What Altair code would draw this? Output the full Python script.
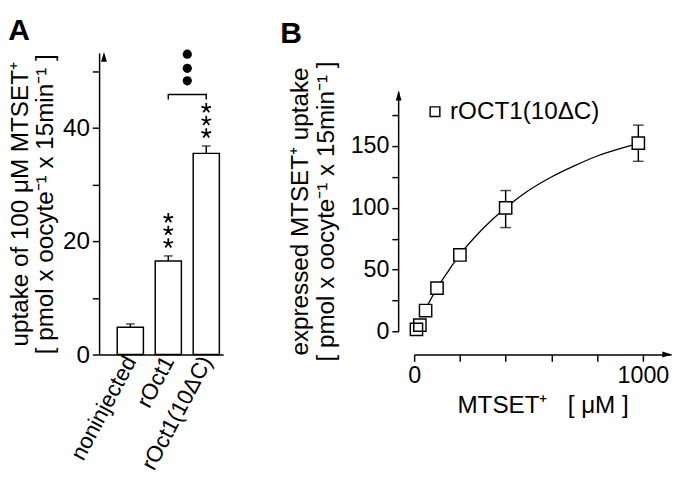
import altair as alt
import pandas as pd

FONT = "Liberation Sans"
NBSP = "\u00a0"

# ---------- Panel A data ----------
groups = ["noninjected", "rOct1", "rOct1(10ΔC)"]
group_pos = [1, 2, 3]
uptake = [4.8, 16.5, 35.5]
uptake_err = [0.6, 0.9, 1.3]
n_stars = [0, 3, 3]

bracket_x = [2, 2, 3, 3]
bracket_y = [45.0, 45.9, 45.9, 45.0]
dots_x = [2.5, 2.5, 2.5]
dots_y = [48.3, 50.5, 53.0]

xa_domain = [0.306, 3.318]
ya_domain = [0, 53.2]
ya_ticks = [0, 10, 20, 30, 40, 50]

# ---------- Panel B data ----------
conc = [10, 25, 50, 100, 200, 400, 980]
expr_uptake = [1.6, 5.0, 16.8, 35.0, 61.8, 100.0, 152.5]
expr_lo = [None, None, None, None, None, 84.0, 137.7]
expr_hi = [None, None, None, None, None, 114.0, 167.0]

fit_conc = [50, 100, 150, 200, 300, 400, 500, 600, 700, 800, 900, 980]
fit_uptake = [18, 35, 49, 62, 83, 100, 114, 125, 134, 142, 148, 152]

xb_domain = [0, 1123]
yb_domain = [0, 225.4]
yb_axis_top = 194
xb_ticks = list(range(0, 1001, 100))
yb_ticks = list(range(0, 176, 25))
series_name = "rOCT1(10ΔC)"

ASTERISK = ("M0,0L0,-1M0,0L0.951,-0.309M0,0L0.588,0.809"
            "M0,0L-0.588,0.809M0,0L-0.951,-0.309")
ARROW_UP = "M0,-0.2L-0.6,1.8L0.6,1.8Z"
ARROW_RIGHT = "M0.2,0L-1.8,-0.6L-1.8,0.6Z"

# ---------- Panel A ----------
dfA = pd.DataFrame({"group": groups, "pos": group_pos, "uptake": uptake,
                    "err": uptake_err, "nstars": n_stars})
dfA["top"] = dfA["uptake"] + dfA["err"]

label_expr = "[''," + ",".join("'" + g + "'" for g in groups) + "][datum.value]"

xA = alt.X("pos:Q", scale=alt.Scale(domain=xa_domain, nice=False, zero=False),
           axis=alt.Axis(values=group_pos, labelExpr=label_expr, labelAngle=-62,
                         ticks=False, title=None, labelFontSize=23, labelPadding=3,
                         labelBaseline="middle", labelOverlap=False, labelFlush=False))
yA = alt.Y("uptake:Q", scale=alt.Scale(domain=ya_domain, nice=False),
           axis=alt.Axis(values=ya_ticks,
                         labelExpr="datum.value % 20 == 0 ? datum.label : ''",
                         tickSize=7, labelFontSize=25, labelPadding=3,
                         title=["uptake of 100 μM MTSET⁺", "[ pmol x oocyte⁻¹ x 15min⁻¹ ]"],
                         titleFontSize=25, titleFontWeight="normal", titlePadding=5,
                         titleLineHeight=26))

baseA = alt.Chart(dfA)
barsA = baseA.mark_bar(size=27, fill="white", stroke="black", strokeWidth=1.5).encode(x=xA, y=yA)
errA = baseA.mark_rule(strokeWidth=1.5, color="black").encode(x="pos:Q", y="uptake:Q", y2="top:Q")
capA = baseA.mark_tick(orient="horizontal", size=9, thickness=1.5, color="black").encode(
    x="pos:Q", y="top:Q")
starLayers = [
    baseA.transform_filter(f"datum.nstars >= {k}").mark_point(
        shape=ASTERISK, size=110, filled=False, color="black", strokeWidth=1.8,
        opacity=1, yOffset=-13 * k).encode(x="pos:Q", y="top:Q")
    for k in (1, 2, 3)
]

dfBr = pd.DataFrame({"x": bracket_x, "y": bracket_y, "o": list(range(4))})
bracket = alt.Chart(dfBr).mark_line(color="black", strokeWidth=1.5).encode(
    x="x:Q", y="y:Q", order="o:Q")
dfDots = pd.DataFrame({"x": dots_x, "y": dots_y})
dots = alt.Chart(dfDots).mark_circle(size=90, color="black", opacity=1).encode(x="x:Q", y="y:Q")

arrowA = alt.Chart(pd.DataFrame({"x": [xa_domain[0]], "y": [ya_domain[1]]})).mark_point(
    shape=ARROW_UP, filled=True, size=100, color="black", opacity=1
).encode(x="x:Q", y="y:Q")

panelA = alt.layer(barsA, errA, capA, *starLayers, bracket, dots, arrowA).properties(
    width=128, height=311,
    title=alt.TitleParams("A", anchor="start", frame="bounds", fontSize=31,
                          fontWeight="bold", baseline="top", offset=3))

# ---------- Panel B ----------
dfB = pd.DataFrame({"conc": conc, "val": expr_uptake, "lo": expr_lo, "hi": expr_hi,
                    "series": [series_name] * len(conc)})
dfFit = pd.DataFrame({"conc": fit_conc, "val": fit_uptake})

xB = alt.X("conc:Q", scale=alt.Scale(domain=xb_domain, nice=False),
           axis=alt.Axis(values=xb_ticks,
                         labelExpr="datum.value % 500 == 0 ? '' + datum.value : ''",
                         offset=24, tickSize=7, labelFontSize=24, labelPadding=3,
                         labelFlush=False, labelOverlap=False,
                         title="MTSET⁺" + NBSP * 3 + "[" + NBSP + "μM" + NBSP + "]",
                         titleFontSize=25, titleFontWeight="normal", titlePadding=6))
yB = alt.Y("val:Q", scale=alt.Scale(domain=yb_domain, nice=False),
           axis=alt.Axis(values=yb_ticks, domain=False,
                         labelExpr="datum.value % 50 == 0 ? datum.label : ''",
                         offset=16, tickSize=7, labelFontSize=24, labelPadding=3,
                         title=["expressed MTSET⁺ uptake", "[ pmol x oocyte⁻¹ x 15min⁻¹ ]"],
                         titleFontSize=25, titleFontWeight="normal", titlePadding=12,
                         titleLineHeight=27, titleY=163))

yaxisB = alt.Chart(pd.DataFrame({"x": [xb_domain[0]], "y": [yb_domain[0]], "y2": [yb_axis_top]})
                   ).mark_rule(color="black", strokeWidth=1.5, xOffset=-16).encode(
    x="x:Q", y="y:Q", y2="y2:Q")
fitB = alt.Chart(dfFit).mark_line(color="black", strokeWidth=1.3, interpolate="monotone").encode(
    x=xB, y=yB)
errB = alt.Chart(dfB).mark_rule(color="black", strokeWidth=1.5).encode(
    x="conc:Q", y="lo:Q", y2="hi:Q")
capLo = alt.Chart(dfB).mark_tick(orient="horizontal", size=11, thickness=1.5, color="black").encode(
    x="conc:Q", y="lo:Q")
capHi = alt.Chart(dfB).mark_tick(orient="horizontal", size=11, thickness=1.5, color="black").encode(
    x="conc:Q", y="hi:Q")
ptsFill = alt.Chart(dfB).mark_point(shape="square", filled=True, color="white", size=160,
                                    opacity=1).encode(x="conc:Q", y="val:Q")
ptsB = alt.Chart(dfB).mark_point(filled=False, color="black", strokeWidth=1.5,
                                 size=160, opacity=1).encode(
    x="conc:Q", y="val:Q",
    shape=alt.Shape("series:N", scale=alt.Scale(range=["square"]),
                    legend=alt.Legend(title=None, orient="none", legendX=9, legendY=48,
                                      labelFontSize=25, labelFont=FONT, symbolSize=100,
                                      symbolStrokeWidth=1.5, symbolStrokeColor="black",
                                      labelColor="black", padding=0, labelOffset=3)))

arrowBy = alt.Chart(pd.DataFrame({"x": [xb_domain[0]], "y": [yb_axis_top]})).mark_point(
    shape=ARROW_UP, filled=True, size=100, color="black", opacity=1, xOffset=-16
).encode(x="x:Q", y="y:Q")
arrowBx = alt.Chart(pd.DataFrame({"x": [xb_domain[1]], "y": [yb_domain[0]]})).mark_point(
    shape=ARROW_RIGHT, filled=True, size=100, color="black", opacity=1, yOffset=24
).encode(x="x:Q", y="y:Q")

panelB = alt.layer(yaxisB, fitB, errB, capLo, capHi, ptsFill, ptsB, arrowBy, arrowBx).properties(
    width=265, height=287,
    title=alt.TitleParams("B", anchor="start", frame="bounds", fontSize=31,
                          fontWeight="bold", baseline="top", offset=3, dx=-8))

chart = alt.hconcat(panelA, panelB, spacing=58).resolve_legend(shape="independent").properties(
    padding=0).configure(font=FONT).configure_view(stroke=None).configure_axis(
    domainColor="black", tickColor="black", labelColor="black", titleColor="black",
    domainWidth=1.5, tickWidth=1.5, grid=False, labelFont=FONT, titleFont=FONT
).configure_title(color="black", font=FONT)

chart.save("out.html", embed_options={"renderer": "svg", "actions": False})
